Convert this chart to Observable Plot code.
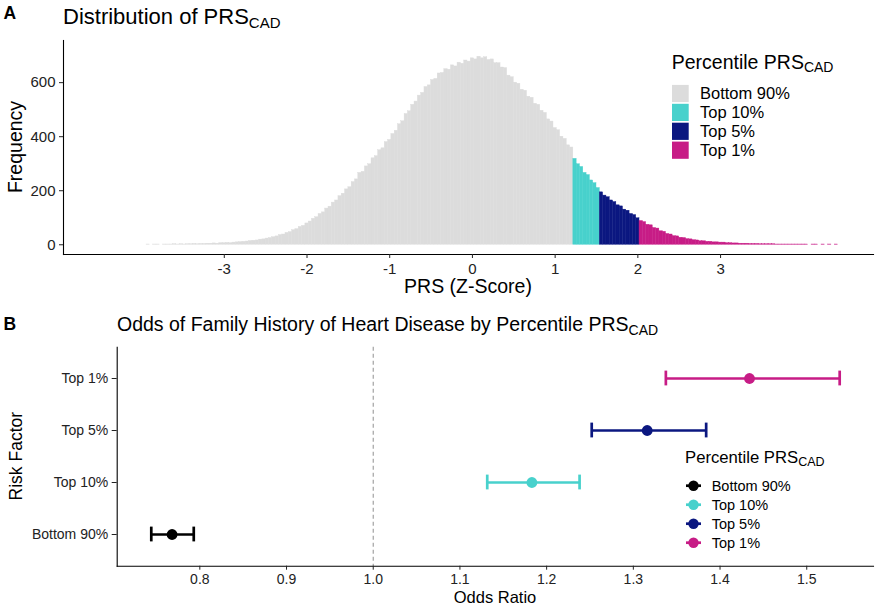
<!DOCTYPE html>
<html><head><meta charset="utf-8">
<script src="https://cdn.jsdelivr.net/npm/d3@7"></script>
<script src="https://cdn.jsdelivr.net/npm/@observablehq/plot@0.6"></script>
<style>
body{margin:0;background:#fff;}
#wrap{position:relative;width:879px;height:608px;overflow:hidden;background:#fff;}
</style></head><body><div id="wrap"></div>
<script>
// ---------- Panel A data: histogram of PRS (bin left edge = binStart + k*binWidth) ----------
const binStart = -3.98;
const binWidth = 0.04;
const binCounts = [
  0,1,0,1,1,0,1,1,1,2,
  1,2,1,2,2,3,2,3,3,4,
  4,5,4,6,6,7,6,8,9,10,
  11,12,14,15,16,19,20,23,25,28,
  31,36,38,44,47,54,58,66,70,79,
  86,96,102,114,120,134,141,156,164,180,
  189,205,213,232,242,266,270,290,298,320,
  328,350,357,380,388,410,422,446,457,484,
  494,518,530,552,562,584,590,610,614,634,
  636,650,648,664,660,674,670,682,678,690,
  686,696,690,694,684,686,672,672,656,654,
  626,620,600,596,574,570,548,544,522,518,
  496,488,464,456,432,424,400,392,368,360,
  318,298,288,266,258,238,228,210,
  194,182,176,164,158,146,142,130,126,114,110,98,
  88,84,74,72,62,60,50,48,40,38,
  32,31,26,25,21,20,17,16,13,13,
  11,11,9,9,8,8,6,6,5,5,
  4,4,4,3,3,3,2,2,2,2,
  2,1,1,1,1,1,1,1,1,1,
  1,0,1,1,0,1,0,1,0,1
];
const groups = ["Bottom 90%", "Top 10%", "Top 5%", "Top 1%"];
const groupCutoffs = [1.22, 1.54, 2.02];        // PRS where Top 10%, Top 5%, Top 1% begin
const histColors = ["#DCDCDC", "#48D1CC", "#0B1780", "#C71C86"];
const xTicksA = [-3, -2, -1, 0, 1, 2, 3];
const yTicksA = [0, 200, 400, 600];

// ---------- Panel B data: odds ratios ----------
const riskFactors = ["Top 1%", "Top 5%", "Top 10%", "Bottom 90%"];
const oddsRatio = [1.434, 1.316, 1.183, 0.768];
const ciLow = [1.3375, 1.252, 1.1315, 0.744];
const ciHigh = [1.538, 1.384, 1.238, 0.793];
const pointColors = ["#000000", "#48D1CC", "#0B1780", "#C71C86"]; // in order of groups
const xTicksB = [0.8, 0.9, 1.0, 1.1, 1.2, 1.3, 1.4, 1.5];

const FONT = "'Liberation Sans', Arial, Helvetica, sans-serif";

function groupOf(x) {
  let g = 0;
  groupCutoffs.forEach((c, i) => { if (x >= c - 1e-9) g = i + 1; });
  return groups[g];
}
const histData = binCounts.map((c, k) => {
  const x1 = +(binStart + k * binWidth).toFixed(2);
  return {x1, x2: +(x1 + binWidth).toFixed(2), y1: 0, y2: c, group: groupOf(x1)};
});

const xDomA = [-4.944, 4.849];
const yDomA = [-36, 756];

const plotA = Plot.plot({
  width: 879, height: 300,
  marginLeft: 63, marginRight: 6, marginTop: 40, marginBottom: 46,
  style: {fontFamily: FONT, fontSize: "15px", color: "#333", background: "transparent", overflow: "visible"},
  x: {domain: xDomA},
  y: {domain: yDomA},
  color: {domain: groups, range: histColors},
  marks: [
    Plot.rect(histData, {x1: "x1", x2: "x2", y1: "y1", y2: "y2", fill: "group", stroke: "group", strokeWidth: 0.4}),
    Plot.frame({anchor: "left", stroke: "#000", strokeWidth: 1.1}),
    Plot.frame({anchor: "bottom", stroke: "#000", strokeWidth: 1.1}),
    Plot.axisX({ticks: xTicksA, tickFormat: d => String(d), tickSize: 4, tickPadding: 4.5, label: null, fontSize: 15, color: "#222"}),
    Plot.axisY({ticks: yTicksA, tickSize: 4, tickPadding: 4, label: null, fontSize: 15, color: "#222"})
  ]
});

const dataB = riskFactors.map((r, i) => ({cat: r, or: oddsRatio[i], lo: ciLow[i], hi: ciHigh[i]}));
const xDomB = [0.7047, 1.577];

const plotB = Plot.plot({
  width: 879, height: 308,
  marginLeft: 116.7, marginRight: 6, marginTop: 46.7, marginBottom: 42.3,
  style: {fontFamily: FONT, fontSize: "14px", color: "#333", background: "transparent", overflow: "visible"},
  x: {domain: xDomB},
  y: {type: "band", domain: riskFactors, paddingInner: 0.8, paddingOuter: 0.5},
  color: {domain: groups, range: pointColors},
  marks: [
    Plot.ruleX([1], {stroke: "#9a9a9a", strokeWidth: 1.1, strokeDasharray: "4,3"}),
    Plot.ruleY(dataB, {y: "cat", x1: "lo", x2: "hi", stroke: "cat", strokeWidth: 2.7}),
    Plot.tickX(dataB, {x: "lo", y: "cat", stroke: "cat", strokeWidth: 2.7, insetTop: -2.4, insetBottom: -2.4}),
    Plot.tickX(dataB, {x: "hi", y: "cat", stroke: "cat", strokeWidth: 2.7, insetTop: -2.4, insetBottom: -2.4}),
    Plot.dot(dataB, {x: "or", y: "cat", fill: "cat", r: 5.4}),
    Plot.frame({anchor: "left", stroke: "#000", strokeWidth: 1.1}),
    Plot.frame({anchor: "bottom", stroke: "#000", strokeWidth: 1.1}),
    Plot.axisX({ticks: xTicksB, tickFormat: d3.format(".1f"), tickSize: 4, tickPadding: 4, label: null, fontSize: 14, color: "#222"}),
    Plot.axisY({tickSize: 5, tickPadding: 4, label: null, fontSize: 14, color: "#222"})
  ]
});

const wrap = document.getElementById("wrap");
[plotA, plotB].forEach((p, i) => {
  p.style.position = "absolute";
  p.style.left = "0px";
  p.style.top = (i === 0 ? 0 : 300) + "px";
  wrap.appendChild(p);
});

function addText(svg, {x, y, text, sub, size, subSize, weight, anchor, rotate}) {
  const t = svg.append("text")
    .attr("font-family", FONT).attr("font-size", size).attr("fill", "#000")
    .attr("font-weight", weight || "normal")
    .attr("text-anchor", anchor || "start");
  if (rotate) t.attr("transform", `translate(${x},${y}) rotate(${rotate})`);
  else t.attr("x", x).attr("y", y);
  t.append("tspan").text(text);
  if (sub) t.append("tspan").attr("font-size", subSize).attr("dy", size * 0.2).text(sub);
  return t;
}

const sA = d3.select(plotA);
addText(sA, {x: 3.5, y: 18.5, text: "A", size: 17.5, weight: "bold"});
addText(sA, {x: 63, y: 24, text: "Distribution of PRS", sub: "CAD", size: 22, subSize: 15});
addText(sA, {x: 22, y: 147, text: "Frequency", size: 19.5, anchor: "middle", rotate: -90});
addText(sA, {x: 468, y: 293, text: "PRS (Z-Score)", size: 19.5, anchor: "middle"});
addText(sA, {x: 671.7, y: 68.5, text: "Percentile PRS", sub: "CAD", size: 19.5, subSize: 14});
groups.forEach((g, i) => {
  const cy = 93.5 + 18.9 * i;
  sA.append("rect").attr("x", 672).attr("y", cy - 8.6).attr("width", 16.7).attr("height", 17.2).attr("fill", histColors[i]);
  addText(sA, {x: 700, y: cy + 5.8, text: g, size: 16.5});
});

const sB = d3.select(plotB);
addText(sB, {x: 3.5, y: 29.5, text: "B", size: 17.5, weight: "bold"});
addText(sB, {x: 117, y: 30.7, text: "Odds of Family History of Heart Disease by Percentile PRS", sub: "CAD", size: 19.5, subSize: 14});
addText(sB, {x: 21.7, y: 156.2, text: "Risk Factor", size: 17.5, anchor: "middle", rotate: -90});
addText(sB, {x: 495, y: 303, text: "Odds Ratio", size: 16.5, anchor: "middle"});
addText(sB, {x: 685, y: 162.7, text: "Percentile PRS", sub: "CAD", size: 16.7, subSize: 12.5});
groups.forEach((g, i) => {
  const cy = 185.7 + 19 * i;
  sB.append("line").attr("x1", 686).attr("x2", 701).attr("y1", cy).attr("y2", cy).attr("stroke", pointColors[i]).attr("stroke-width", 2.7);
  sB.append("circle").attr("cx", 693.5).attr("cy", cy).attr("r", 5.2).attr("fill", pointColors[i]);
  addText(sB, {x: 711.7, y: cy + 5.1, text: g, size: 14.5});
});
</script></body></html>
